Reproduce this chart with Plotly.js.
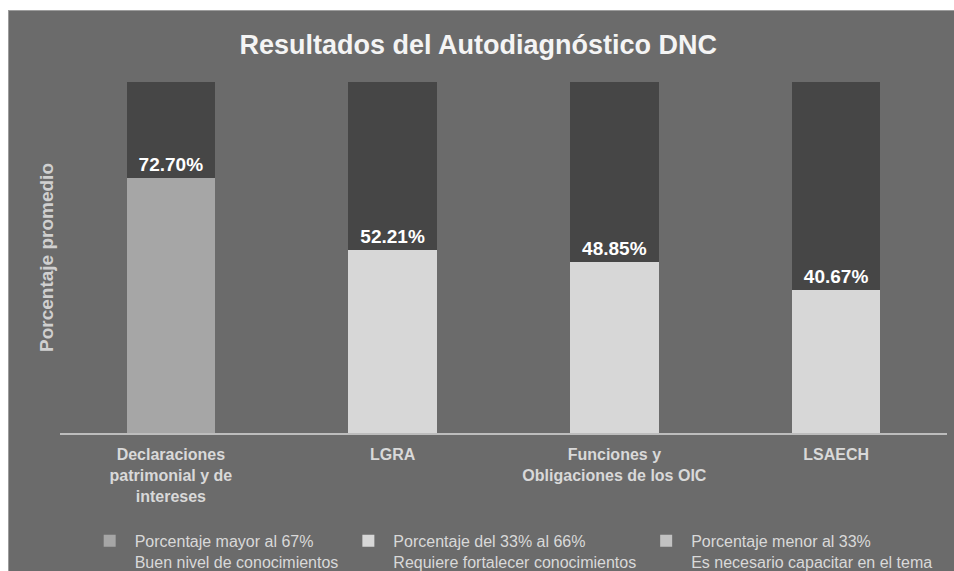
<!DOCTYPE html>
<html>
<head>
<meta charset="utf-8">
<script src="https://cdn.plot.ly/plotly-3.0.1.min.js"></script>
<style>
  html, body { margin: 0; padding: 0; background: #ffffff; }
  #chart { position: absolute; left: 8px; top: 10px; width: 946px; height: 561px;
           border-left: 1px solid #9c9c9c; border-top: 1px solid #9c9c9c; box-sizing: border-box; }
</style>
</head>
<body>
<div id="chart"></div>
<script>
// ---- data ----
const categories = [
  "Declaraciones<br>patrimonial y de<br>intereses",
  "LGRA",
  "Funciones y<br>Obligaciones de los OIC",
  "LSAECH"
];
const averages = [72.70, 52.21, 48.85, 40.67];
const totalPct = 100;
const legendNames = [
  "Porcentaje mayor al 67%<br>Buen nivel de conocimientos",
  "Porcentaje del 33% al 66%<br>Requiere fortalecer conocimientos",
  "Porcentaje menor al 33%<br>Es necesario capacitar en el tema"
];
const levelColors = ["#a6a6a6", "#d7d7d7", "#c2c2c2"];
const remainderColor = "#464646";

// ---- build traces ----
function level(v) { return v > 67 ? 0 : (v >= 33 ? 1 : 2); }
const traces = legendNames.map((name, k) => ({
  type: "bar",
  name: name,
  x: categories,
  y: averages.map(v => level(v) === k ? v : null),
  marker: { color: levelColors[k] },
  hoverinfo: "skip"
}));
traces.push({
  type: "bar",
  name: "resto",
  showlegend: false,
  x: categories,
  y: averages.map(v => totalPct - v),
  marker: { color: remainderColor },
  text: averages.map(v => v.toFixed(2) + "%"),
  textposition: "inside",
  insidetextanchor: "start",
  textangle: 0,
  constraintext: "none",
  textfont: { family: "Arial, Liberation Sans, sans-serif", size: 19, color: "#ffffff", weight: "bold" },
  hoverinfo: "skip"
});

const layout = {
  width: 946, height: 561,
  barmode: "stack",
  bargap: 0.6,
  paper_bgcolor: "#6b6b6b",
  plot_bgcolor: "#6b6b6b",
  margin: { l: 51, r: 8, t: 71, b: 139 },
  font: { family: "Arial, Liberation Sans, sans-serif", color: "#d9d9d9" },
  title: {
    text: "<b>Resultados del Autodiagnóstico DNC</b>",
    font: { size: 27, color: "#f4f4f4" },
    x: 0.496, xanchor: "center",
    y: 0.94, yanchor: "middle"
  },
  xaxis: {
    showline: true, linecolor: "#bdbdbd", linewidth: 2,
    showgrid: false, zeroline: false, ticks: "",
    tickfont: { size: 16, color: "#d9d9d9", weight: "bold" },
    ticklabelstandoff: 6,
    fixedrange: true
  },
  yaxis: {
    range: [0, 100],
    showgrid: false, zeroline: false, showticklabels: false, ticks: "",
    title: { text: "<b>Porcentaje promedio</b>", font: { size: 19, color: "#d0d0d0" }, standoff: 0 },
    fixedrange: true
  },
  showlegend: true,
  legend: {
    orientation: "h",
    xref: "container", yref: "container",
    x: 0.080, xanchor: "left",
    y: 0.086, yanchor: "top",
    valign: "top",
    itemwidth: 40,
    font: { size: 16, color: "#d9d9d9" },
    bgcolor: "rgba(0,0,0,0)",
    traceorder: "normal",
    itemclick: false
  }
};

Plotly.newPlot("chart", traces, layout, { displayModeBar: false, staticPlot: true });
</script>
</body>
</html>
